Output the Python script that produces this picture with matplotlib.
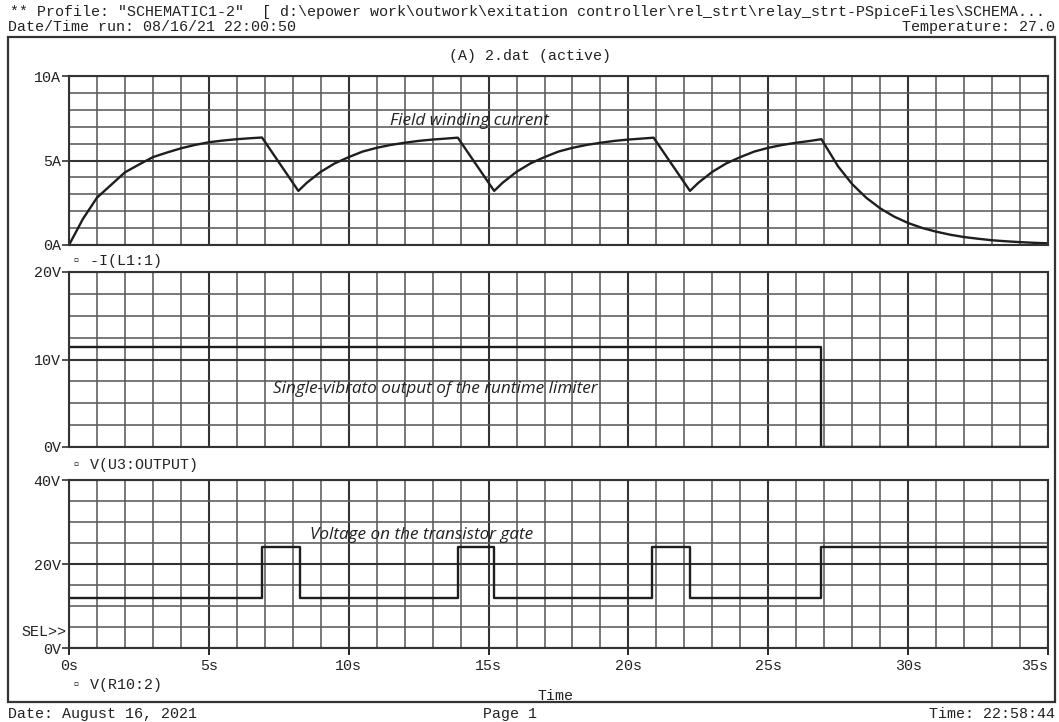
import matplotlib.pyplot as plt
from matplotlib.patches import Rectangle
from matplotlib.ticker import MultipleLocator

# field winding current -I(L1:1)
time_i = [0, 0.5, 1, 1.5, 2, 2.5, 3, 3.5, 4, 4.5, 5, 5.5, 6, 6.5, 6.9,
          8.2, 8.5, 9, 9.5, 10, 10.5, 11, 11.5, 12, 12.5, 13, 13.5, 13.9,
          15.2, 15.5, 16, 16.5, 17, 17.5, 18, 18.5, 19, 19.5, 20, 20.5, 20.9,
          22.2, 22.5, 23, 23.5, 24, 24.5, 25, 25.5, 26, 26.5, 26.9,
          27.5, 28, 28.5, 29, 29.5, 30, 30.5, 31, 31.5, 32, 32.5, 33, 33.5, 34, 34.5, 35]
current_a = [0, 1.55, 2.8, 3.55, 4.3, 4.76, 5.2, 5.47, 5.72, 5.92, 6.08, 6.18, 6.26, 6.32, 6.36,
             3.2, 3.68, 4.33, 4.83, 5.2, 5.53, 5.75, 5.92, 6.05, 6.16, 6.24, 6.3, 6.35,
             3.2, 3.68, 4.33, 4.83, 5.2, 5.53, 5.75, 5.92, 6.05, 6.16, 6.24, 6.3, 6.35,
             3.2, 3.68, 4.33, 4.83, 5.2, 5.53, 5.75, 5.92, 6.05, 6.16, 6.26,
             4.64, 3.6, 2.8, 2.17, 1.68, 1.3, 1.01, 0.79, 0.61, 0.47, 0.37, 0.28, 0.22, 0.17, 0.13, 0.1]

# V(U3:OUTPUT) single-vibrator output
limiter_t = [0, 26.9, 35]
limiter_v = [11.4, 0, 0]

# V(R10:2) gate voltage
gate_t = [0, 6.9, 8.25, 13.9, 15.2, 20.85, 22.2, 26.9, 35]
gate_v = [12, 24, 12, 24, 12, 24, 12, 24, 24]

x_ticks = [0, 5, 10, 15, 20, 25, 30, 35]

mono = ['Liberation Mono', 'DejaVu Sans Mono', 'DejaVu Sans']
tcol = '#222222'
fs = 10.8

fig = plt.figure(figsize=(10.59, 7.22), dpi=100)
W, H = 1059, 722


def fx(px):
    return px / W


def fy(py):
    return 1 - py / H


def panel(top, bottom, ymax, ymin_step, unit, labels):
    ax = fig.add_axes([fx(69), fy(bottom), fx(1048) - fx(69), fy(top) - fy(bottom)])
    ax.set_xlim(0, 35)
    ax.set_ylim(0, ymax)
    ax.xaxis.set_major_locator(MultipleLocator(5))
    ax.xaxis.set_minor_locator(MultipleLocator(1))
    ax.yaxis.set_minor_locator(MultipleLocator(ymin_step))
    ax.set_yticks(labels)
    ax.set_yticklabels([f'{v}{unit}' for v in labels], family=mono, fontsize=fs, color=tcol)
    ax.grid(which='minor', color='#5a5a5a', lw=1.15)
    ax.grid(which='major', color='#333333', lw=1.5)
    ax.tick_params(which='minor', length=0)
    ax.tick_params(which='major', axis='y', length=5, width=1.2, color='#333', pad=1)
    ax.tick_params(which='major', axis='x', length=0)
    ax.set_xticklabels([])
    for s in ax.spines.values():
        s.set_color('#333')
        s.set_linewidth(1.5)
    ax.set_axisbelow(True)
    return ax


ax1 = panel(76, 245, 10, 1, 'A', [0, 5, 10])
ax1.plot(time_i, current_a, color='#1e1e1e', lw=1.7)

ax2 = panel(272, 447, 20, 2.5, 'V', [0, 10, 20])
ax2.plot(limiter_t, limiter_v, color='#1e1e1e', lw=1.7, drawstyle='steps-post')

ax3 = panel(480, 648, 40, 5, 'V', [0, 20, 40])
ax3.plot(gate_t, gate_v, color='#1e1e1e', lw=1.7, drawstyle='steps-post')
ax3.set_xticks(x_ticks)
xl = ax3.set_xticklabels([f'{v}s' for v in x_ticks], family=mono, fontsize=fs, color=tcol)
xl[-1].set_ha('right')
ax3.tick_params(which='major', axis='x', length=5, width=1.2, pad=3)

# outer frame
fig.add_artist(Rectangle((fx(8), fy(702)), fx(1055) - fx(8), fy(37) - fy(702),
                         transform=fig.transFigure, fill=False, ec='#333', lw=1.6))

# header / footer text
txt = dict(family=mono, fontsize=fs, color=tcol, va='center')
fig.text(fx(10), fy(12), '** Profile: "SCHEMATIC1-2"  [ d:\\epower work\\outwork\\exitation controller\\rel_strt\\relay_strt-PSpiceFiles\\SCHEMA...', **txt)
fig.text(fx(8), fy(27), 'Date/Time run: 08/16/21 22:00:50', **txt)
fig.text(fx(1055), fy(27), 'Temperature: 27.0', ha='right', **txt)
fig.text(fx(530), fy(56), '(A) 2.dat (active)', ha='center', **txt)
fig.text(fx(72), fy(261), '\u25ab -I(L1:1)', **txt)
fig.text(fx(72), fy(465), '\u25ab V(U3:OUTPUT)', **txt)
fig.text(fx(72), fy(685), '\u25ab V(R10:2)', **txt)
fig.text(fx(66), fy(632), 'SEL>>', ha='right', **txt)
fig.text(fx(556), fy(696), 'Time', ha='center', **txt)
fig.text(fx(8), fy(714), 'Date: August 16, 2021', **txt)
fig.text(fx(510), fy(714), 'Page 1', ha='center', **txt)
fig.text(fx(1055), fy(714), 'Time: 22:58:44', ha='right', **txt)

# annotations
ann = dict(family='Open Sans', style='italic', fontsize=12.3, color='#222', va='center')
fig.text(fx(390), fy(121), 'Field winding current', **ann)
fig.text(fx(273), fy(389), 'Single-vibrato output of the runtime limiter', **ann)
fig.text(fx(310), fy(535), 'Voltage on the transistor gate', **ann)

fig.savefig('out.png', dpi=100)
